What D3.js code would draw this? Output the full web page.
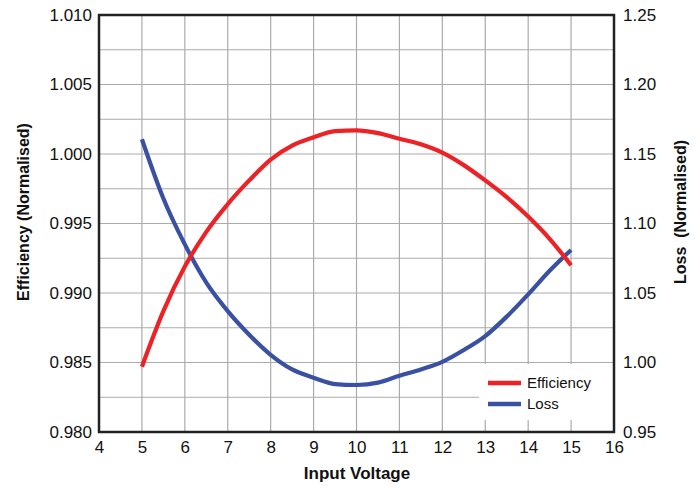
<!DOCTYPE html>
<html><head><meta charset="utf-8">
<script src="https://cdn.jsdelivr.net/npm/d3@7"></script>
<style>body{margin:0;background:#fff}svg{display:block;font-family:"Liberation Sans",Arial,sans-serif}</style>
</head><body><svg id="c" width="700" height="487"></svg>
<script>
const voltage = [5,5.5,6,6.5,7,7.5,8,8.5,9,9.5,10,10.5,11,11.5,12,12.5,13,13.5,14,14.5,15];
const efficiency = [0.9847,0.9887,0.9919,0.9944,0.9964,0.9981,0.9996,1.0006,1.0012,1.00165,1.0017,1.0015,1.0011,1.0007,1.0001,0.9992,0.9981,0.9969,0.9955,0.9939,0.9920];
const loss = [1.1606,1.118,1.085,1.0575,1.037,1.020,1.0055,0.995,0.989,0.9845,0.9838,0.9855,0.9905,0.995,1.0005,1.009,1.019,1.033,1.049,1.066,1.081];
const xTicks = [4,5,6,7,8,9,10,11,12,13,14,15,16];
const leftTicks = [0.980,0.985,0.990,0.995,1.000,1.005,1.010];
const rightTicks = [0.95,1.00,1.05,1.10,1.15,1.20,1.25];
const seriesNames = ["Efficiency","Loss"];
const colors = ["#ec2227","#3a51a3"];

const svg = d3.select("#c");
const L=99, R=614, T=15, B=432;
const x = d3.scaleLinear().domain([4,16]).range([L,R]);
const yL = d3.scaleLinear().domain([0.980,1.010]).range([B,T]);
const yR = d3.scaleLinear().domain([0.95,1.25]).range([B,T]);

// grid
const g = svg.append("g");
const hGrid = d3.range(0,13).map(i=>0.980+i*0.0025);
g.selectAll(".hg").data(hGrid).join("line")
 .attr("x1",L).attr("x2",R).attr("y1",d=>yL(d)).attr("y2",d=>yL(d))
 .attr("stroke","#ababab").attr("stroke-width",1.2);
g.selectAll(".vg").data(xTicks).join("line")
 .attr("y1",T).attr("y2",B).attr("x1",d=>x(d)).attr("x2",d=>x(d))
 .attr("stroke","#ababab").attr("stroke-width",1.2);

// legend background (covers grid)
const lg = svg.append("g");
lg.append("rect").attr("x",479).attr("y",364).attr("width",134).attr("height",56).attr("fill","#fff");

// lines
const line = (yscale) => d3.line().curve(d3.curveMonotoneX).x((d,i)=>x(voltage[i])).y(d=>yscale(d));
svg.append("path").datum(loss).attr("d",line(yR)).attr("fill","none")
 .attr("stroke",colors[1]).attr("stroke-width",4.2);
svg.append("path").datum(efficiency).attr("d",line(yL)).attr("fill","none")
 .attr("stroke",colors[0]).attr("stroke-width",4.2);

// legend entries
seriesNames.forEach((n,i)=>{
  const yy = 383 + i*21;
  lg.append("line").attr("x1",488).attr("x2",521).attr("y1",yy).attr("y2",yy)
    .attr("stroke",colors[i]).attr("stroke-width",4.5);
  lg.append("text").attr("x",527).attr("y",yy).attr("dy","0.35em")
    .attr("font-size",15).attr("fill","#111").text(n);
});

// frame
svg.append("rect").attr("x",L).attr("y",T).attr("width",R-L).attr("height",B-T)
 .attr("fill","none").attr("stroke","#222").attr("stroke-width",2.5);

// axes
const fs = 17;
const ax = svg.append("g").attr("transform",`translate(0,${B})`)
 .call(d3.axisBottom(x).tickValues(xTicks).tickSize(0).tickPadding(9).tickFormat(d3.format("d")));
ax.select(".domain").remove();
ax.selectAll("text").attr("font-size",fs).attr("fill","#111").attr("font-family","Liberation Sans, Arial");
const al = svg.append("g").attr("transform",`translate(${L},0)`)
 .call(d3.axisLeft(yL).tickValues(leftTicks).tickSize(0).tickPadding(7).tickFormat(d3.format(".3f")));
al.select(".domain").remove();
al.selectAll("text").attr("font-size",fs).attr("fill","#111").attr("font-family","Liberation Sans, Arial");
const ar = svg.append("g").attr("transform",`translate(${R},0)`)
 .call(d3.axisRight(yR).tickValues(rightTicks).tickSize(0).tickPadding(9).tickFormat(d3.format(".2f")));
ar.select(".domain").remove();
ar.selectAll("text").attr("font-size",fs).attr("fill","#111").attr("font-family","Liberation Sans, Arial");

// titles
svg.append("text").attr("x",357).attr("y",479).attr("text-anchor","middle")
 .attr("font-size",17).attr("font-weight","bold").attr("fill","#111").text("Input Voltage");
svg.append("text").attr("transform","translate(29,212) rotate(-90)").attr("text-anchor","middle")
 .attr("font-size",16).attr("font-weight","bold").attr("fill","#111").text("Efficiency (Normalised)");
svg.append("text").attr("transform","translate(686,212) rotate(-90)").attr("text-anchor","middle")
 .attr("font-size",16).attr("font-weight","bold").attr("fill","#111").style("white-space","pre").text("Loss  (Normalised)");
</script></body></html>
